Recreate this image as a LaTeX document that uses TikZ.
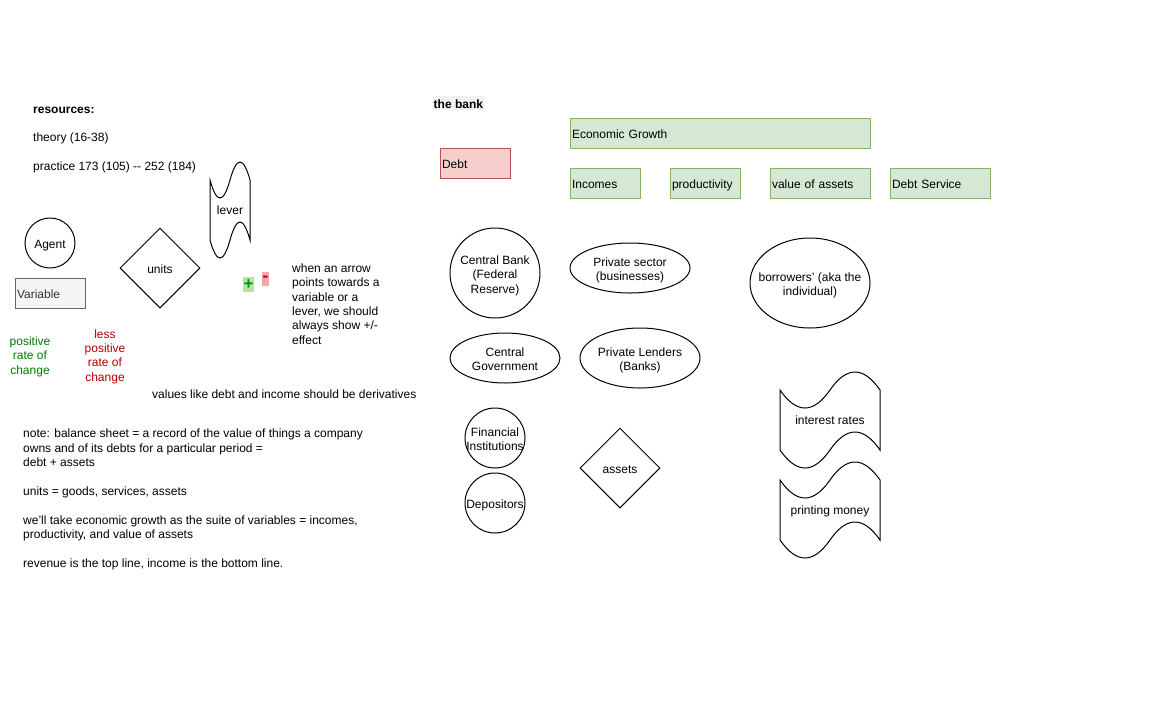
\documentclass[tikz,border=0pt]{standalone}
\usepackage{fontspec}
\setmainfont{Liberation Sans}
\usetikzlibrary{shapes.geometric}
\definecolor{gfill}{HTML}{D5E8D4}
\definecolor{gline}{HTML}{82B366}
\definecolor{rfill}{HTML}{F8CECC}
\definecolor{rline}{HTML}{B85450}
\definecolor{vfill}{HTML}{F5F5F5}
\definecolor{vline}{HTML}{666666}
\definecolor{vtext}{HTML}{333333}
\definecolor{gtext}{HTML}{007A00}
\definecolor{rtext}{HTML}{B20000}
\definecolor{plusfill}{HTML}{B9E0A5}
\definecolor{plustext}{HTML}{009900}
\definecolor{minusfill}{HTML}{F4A9A8}
\definecolor{bankbg}{HTML}{F1F1F1}
\newcommand\tapeshape[4]{%
  \begin{scope}[shift={(#1,#2)}]
    \pgfmathsetmacro\tapew{#3}%
    \pgfmathsetmacro\tapeh{#4}%
    \pgfmathsetmacro\tapedy{0.4*#4}%
    \draw[shp] (0,0.5*\tapedy)
      .. controls (\tapew/6,1.1*\tapedy) and (\tapew/3,1.1*\tapedy) .. (\tapew/2,0.5*\tapedy)
      .. controls (2*\tapew/3,-0.1*\tapedy) and (5*\tapew/6,-0.1*\tapedy) .. (\tapew,0.5*\tapedy)
      -- (\tapew,\tapeh-0.5*\tapedy)
      .. controls (5*\tapew/6,\tapeh-1.1*\tapedy) and (2*\tapew/3,\tapeh-1.1*\tapedy) .. (\tapew/2,\tapeh-0.5*\tapedy)
      .. controls (\tapew/3,\tapeh+0.1*\tapedy) and (\tapew/6,\tapeh+0.1*\tapedy) .. (0,\tapeh-0.5*\tapedy)
      -- cycle;
  \end{scope}}
\begin{document}
\begin{tikzpicture}[x=1pt,y=-1pt,
  every node/.style={font=\fontsize{12}{14.4}\selectfont, inner sep=0pt},
  shp/.style={draw=black, line width=1pt},
  one/.style={text height=11pt, text depth=1pt},
  gbox/.style={shp, draw=gline, fill=gfill, rectangle, minimum height=30pt, align=left, inner xsep=2pt, one},
  rbox/.style={shp, draw=rline, fill=rfill, rectangle, minimum height=30pt, align=left, inner xsep=2pt, one},
  ell/.style={shp, ellipse},
  circ/.style={shp, circle},
  dia/.style={shp, diamond, minimum width=80pt, minimum height=80pt},
  lbl/.style={align=center},
  mlbl/.style={align=center, yshift=-2.5pt},
  note/.style={anchor=west, align=left, yshift=-2pt}]
\useasboundingbox (0,0) rectangle (1152,724);

% ---- left legend ----
\node[note] (res) at (33,138) {\textbf{resources:}\\[14.4pt]theory (16-38)\\[14.4pt]practice 173 (105) -{}- 252 (184)};

\tapeshape{210}{160}{40}{100}
\node[lbl, one] (lever) at (230,209) {lever};

\node[circ, minimum size=50pt] (agent) at (50,243) {};
\node[lbl, one] (agentt) at (agent) {Agent};
\node[shp, draw=vline, fill=vfill, rectangle, minimum width=70pt, minimum height=30pt, text width=66pt, align=left, inner xsep=2pt, text=vtext, one] (variable) at (50,293) {Variable};
\node[dia] (units) at (160,268) {};
\node[lbl, one] (unitst) at (units) {units};

\node[fill=plusfill, text=plustext, minimum width=11pt, minimum height=15pt, font=\fontsize{17}{17}\selectfont\bfseries] (plus) at (248.5,284.5) {+};
\node[fill=minusfill, text=rtext, minimum width=7pt, minimum height=14pt, font=\fontsize{17}{17}\selectfont\bfseries] (minus) at (265.5,279) {-};

\node[note, yshift=2pt] (arrownote) at (292,304) {when an arrow\\points towards a\\variable or a\\lever, we should\\always show +/-\\effect};

\node[mlbl, text=gtext] (pos) at (30,354) {positive\\rate of\\change};
\node[mlbl, text=rtext] (lesspos) at (105,354) {less\\positive\\rate of\\change};

\node[note, yshift=2pt, one] (deriv) at (152,393) {values like debt and income should be derivatives};

\node[note] (notes) at (23,497.5) {note: balance sheet = a record of the value of things a company\\owns and of its debts for a particular period =\\debt + assets\\[14.4pt]units = goods, services, assets\\[14.4pt]we'll take economic growth as the suite of variables = incomes,\\productivity, and value of assets\\[14.4pt]revenue is the top line, income is the bottom line.};

% ---- the bank ----
\node[anchor=west, fill=bankbg, inner xsep=0.5pt, inner ysep=1pt, one] (bank) at (433,103) {\textbf{the bank}};

\node[gbox, minimum width=300pt, text width=296pt] (growth) at (720,133) {Economic Growth};
\node[rbox, minimum width=70pt, text width=66pt] (debt) at (475,163) {Debt};
\node[gbox, minimum width=70pt, text width=66pt] (incomes) at (605,183) {Incomes};
\node[gbox, minimum width=70pt, text width=66pt] (prod) at (705,183) {productivity};
\node[gbox, minimum width=100pt, text width=96pt] (voa) at (820,183) {value of assets};
\node[gbox, minimum width=100pt, text width=96pt] (dserv) at (940,183) {Debt Service};

\node[circ, minimum size=90pt] (cbank) at (495,273) {};
\node[mlbl] (cbankt) at (cbank) {Central Bank\\(Federal\\Reserve)};
\node[ell, minimum width=120pt, minimum height=50pt] (psector) at (630,268) {};
\node[mlbl] (psectort) at (psector) {Private sector\\(businesses)};
\node[ell, minimum width=120pt, minimum height=90pt] (borrow) at (810,283) {};
\node[mlbl] (borrowt) at (borrow) {borrowers' (aka the\\individual)};
\node[ell, minimum width=110pt, minimum height=50pt] (cgov) at (505,358) {};
\node[mlbl, yshift=1pt] (cgovt) at (cgov) {Central\\Government};
\node[ell, minimum width=120pt, minimum height=60pt] (plend) at (640,358) {};
\node[mlbl] (plendt) at (plend) {Private Lenders\\(Banks)};
\node[circ, minimum size=60pt] (finst) at (495,438) {};
\node[mlbl, yshift=1pt] (finstt) at (finst) {Financial\\Institutions};
\node[circ, minimum size=60pt] (depos) at (495,503) {};
\node[lbl, one] (depost) at (depos) {Depositors};
\node[dia] (assets) at (620,468) {};
\node[lbl, one] (assetst) at (assets) {assets};

\tapeshape{780}{370}{100}{100}
\node[lbl, one] (irates) at (830,419) {interest rates};
\tapeshape{780}{460}{100}{100}
\node[lbl, one] (pmoney) at (830,509) {printing money};
\end{tikzpicture}
\end{document}
